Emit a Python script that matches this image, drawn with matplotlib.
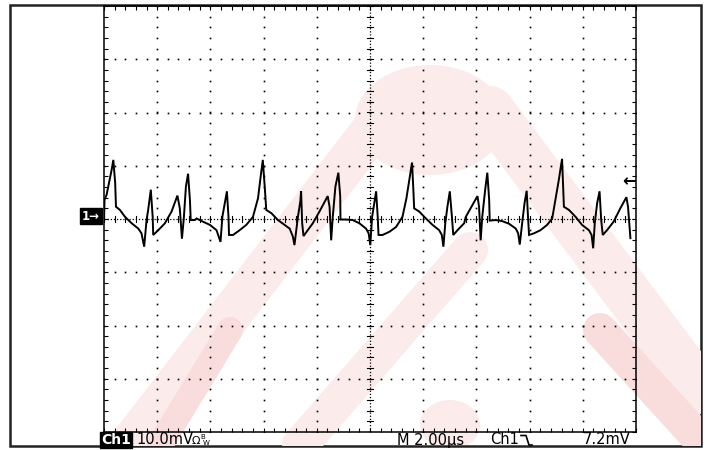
import numpy as np
import matplotlib
matplotlib.use("Agg")
import matplotlib.pyplot as plt
from matplotlib.patches import Rectangle, Ellipse

# scope settings
volts_per_div = 10.0   # mV
time_per_div = 2.0     # us
trigger_level = 7.2    # mV

# trace: time (us) and voltage (mV)
t_us = [0.00, 0.02, 0.10, 0.20, 0.29, 0.35, 0.42, 0.45, 0.60, 0.79,
        1.04, 1.29, 1.41, 1.51, 1.60, 1.66, 1.76, 1.83, 1.85, 2.04,
        2.29, 2.54, 2.76, 2.85, 2.93, 3.00, 3.08, 3.16, 3.23, 3.26,
        3.41, 3.48, 3.72, 3.98, 4.23, 4.38, 4.45, 4.54, 4.62, 4.68,
        4.70, 4.85, 5.10, 5.35, 5.60, 5.79, 5.89, 5.97, 6.05, 6.10,
        6.29, 6.54, 6.79, 6.98, 7.10, 7.16, 7.29, 7.38, 7.41, 7.45,
        7.50, 7.66, 7.85, 8.10, 8.41, 8.48, 8.54, 8.60, 8.70, 8.81,
        8.88, 8.89, 9.10, 9.35, 9.60, 9.85, 9.95, 10.01, 10.08, 10.16,
        10.23, 10.29, 10.32, 10.47, 10.73, 10.98, 11.22, 11.37, 11.48, 11.58,
        11.63, 11.66, 11.85, 12.10, 12.35, 12.60, 12.70, 12.76, 12.83, 12.91,
        13.00, 13.08, 13.13, 13.29, 13.54, 13.60, 13.85, 14.04, 14.10, 14.16,
        14.22, 14.33, 14.41, 14.48, 14.50, 14.73, 14.97, 15.23, 15.48, 15.57,
        15.63, 15.72, 15.81, 15.89, 15.94, 15.98, 16.16, 16.41, 16.66, 16.85,
        16.98, 17.10, 17.22, 17.26, 17.29, 17.48, 17.73, 17.97, 18.23, 18.33,
        18.39, 18.45, 18.54, 18.63, 18.69, 18.75, 18.91, 19.16, 19.41, 19.64,
        19.70, 19.79]
v_mv = [-0.4, 3.6, 4.6, 7.1, 9.3, 11.1, 6.8, 2.3, 1.7, 0.4,
        -0.8, -1.8, -2.7, -5.2, -0.2, 1.7, 5.5, 0.4, -3.0, -2.1,
        -0.8, 1.4, 4.4, 2.0, -3.7, 0.1, 6.1, 8.5, 3.6, -0.2,
        -0.2, 0.1, -0.5, -1.1, -2.1, -4.3, 0.4, 3.0, 5.2, 0.4,
        -3.0, -3.0, -2.1, -1.1, 0.4, 3.9, 8.0, 11.1, 5.5, 1.7,
        1.1, -0.2, -1.1, -1.8, -3.3, -4.9, 0.4, 3.3, 5.2, -0.8,
        -3.2, -2.1, -0.8, 1.4, 4.3, 2.3, -4.0, 0.4, 6.1, 8.7,
        4.3, -0.1, -0.1, -0.2, -0.8, -1.8, -2.7, -4.9, 0.4, 2.9,
        5.2, 0.4, -3.0, -3.0, -2.4, -1.5, 0.4, 3.9, 7.4, 10.6,
        5.5, 2.0, 1.4, 0.1, -1.1, -2.1, -3.0, -5.2, -0.8, 2.3,
        5.2, 0.4, -3.0, -2.1, -0.8, 0.4, 2.6, 4.3, 2.3, -4.0,
        0.4, 5.5, 8.7, 3.6, -0.3, -0.2, -0.4, -0.9, -1.8, -2.7,
        -4.8, -0.8, 3.0, 5.3, 0.4, -3.0, -2.7, -2.1, -1.1, 0.1,
        3.9, 7.4, 11.3, 6.4, 2.3, 1.7, 0.4, -1.1, -2.1, -3.0,
        -5.5, -0.8, 3.0, 5.2, -0.1, -3.0, -2.1, -0.5, 2.0, 4.1,
        2.3, -3.6]

W, H = 709, 450
fig = plt.figure(figsize=(W / 100, H / 100), dpi=100)
fig.patch.set_facecolor("white")

# background layer in pixel coords (watermark, frame, readout)
bg = fig.add_axes([0, 0, 1, 1], zorder=0)
bg.set_xlim(0, W)
bg.set_ylim(H, 0)
bg.axis("off")

clip = Rectangle((10, 5), 691, 441, transform=bg.transData)
pink = "#fcebeb"
pink2 = "#f9dddd"
wm = []
wm.append(bg.add_patch(Ellipse((430, 120), 150, 110, color=pink, lw=0)))
wm.append(bg.add_patch(Ellipse((450, 425), 60, 50, color=pink, lw=0)))
bands = [((380, 120), (130, 445), 42, pink),
         ((470, 250), (300, 445), 36, pink),
         ((490, 110), (700, 390), 48, pink),
         ((600, 330), (700, 440), 34, pink2),
         ((230, 330), (160, 445), 26, pink2)]
for (x0, y0), (x1, y1), w, c in bands:
    ln, = bg.plot([x0, x1], [y0, y1], color=c, lw=w * 0.72,
                  solid_capstyle="round")
    wm.append(ln)
for p in wm:
    p.set_clip_path(clip)

bg.add_patch(Rectangle((10, 5), 691, 441, fill=False, ec="#222222", lw=1.8))

# graticule axes
ax = fig.add_axes([104 / W, 1 - 432 / H, 532 / W, 426 / H], zorder=1)
ax.set_facecolor("none")
ax.set_xlim(0, 10 * time_per_div)
ax.set_ylim(-4 * volts_per_div, 4 * volts_per_div)
for s in ax.spines.values():
    s.set_linewidth(1.1)
    s.set_color("black")
ax.set_xticks(np.arange(0, 10.01, 1) * time_per_div)
ax.set_yticks(np.arange(-4, 4.01, 1) * volts_per_div)
ax.set_xticks(np.arange(0, 10.01, 0.2) * time_per_div, minor=True)
ax.set_yticks(np.arange(-4, 4.01, 0.2) * volts_per_div, minor=True)
ax.tick_params(which="both", direction="in", length=3, width=0.8,
               top=True, right=True, labelbottom=False, labelleft=False)

# dotted division lines
xs_minor = np.arange(0, 10.01, 0.2) * time_per_div
ys_minor = np.arange(-4, 4.01, 0.2) * volts_per_div
for k in range(1, 10):
    if k == 5:
        continue
    gx = k * time_per_div
    ax.plot(np.full_like(ys_minor, gx), ys_minor, ls="none", marker="s",
            ms=1.2, mew=0, color="black")
for k in range(1, 8):
    if k == 4:
        continue
    gy = (k - 4) * volts_per_div
    ax.plot(xs_minor, np.full_like(xs_minor, gy), ls="none", marker="s",
            ms=1.2, mew=0, color="black")

# centre cross with small ticks
cx, cy = 5 * time_per_div, 0.0
ax.axvline(cx, color="black", lw=0.9, ls=(0, (1, 1.5)))
ax.axhline(cy, color="black", lw=0.9, ls=(0, (1, 1.5)))
dx = 0.06 * time_per_div
dy = 0.06 * volts_per_div
for yv in ys_minor:
    ax.plot([cx - dx, cx + dx], [yv, yv], color="black", lw=0.8)
for xv in xs_minor:
    ax.plot([xv, xv], [cy - dy, cy + dy], color="black", lw=0.8)

# the trace
ax.plot(t_us, v_mv, color="black", lw=1.4, solid_joinstyle="miter")

# trigger level arrow at the right edge
ax.annotate("\u2190", xy=(10 * time_per_div, trigger_level), ha="right",
            va="center", fontsize=12, fontweight="bold", annotation_clip=False)

# ground marker "1->"
bg.text(91, 216, "1\u2192", ha="center", va="center", color="white",
        fontsize=8.5, fontweight="bold",
        bbox=dict(boxstyle="square,pad=0.15", fc="black", ec="black"))

# readout line under the screen
bg.text(116, 440, "Ch1", ha="center", va="center", color="white",
        fontsize=10, fontweight="bold",
        bbox=dict(boxstyle="square,pad=0.1", fc="black", ec="black"))
bg.text(136, 440, "10.0mV", ha="left", va="center", fontsize=10.5)
bg.text(192, 441, "\u03a9", ha="left", va="center", fontsize=8)
bg.text(200, 437, "B", ha="left", va="center", fontsize=5)
bg.text(203, 443, "W", ha="left", va="center", fontsize=5)
bg.text(397, 440, "M 2.00\u00b5s", ha="left", va="center", fontsize=10.5)
bg.text(490, 440, "Ch1", ha="left", va="center", fontsize=10.5)
bg.plot([521, 526, 529, 532], [435.5, 435.5, 445, 445], color="black", lw=1.2)
bg.text(630, 440, "7.2mV", ha="right", va="center", fontsize=10.5)

fig.savefig("out.png", dpi=100)
